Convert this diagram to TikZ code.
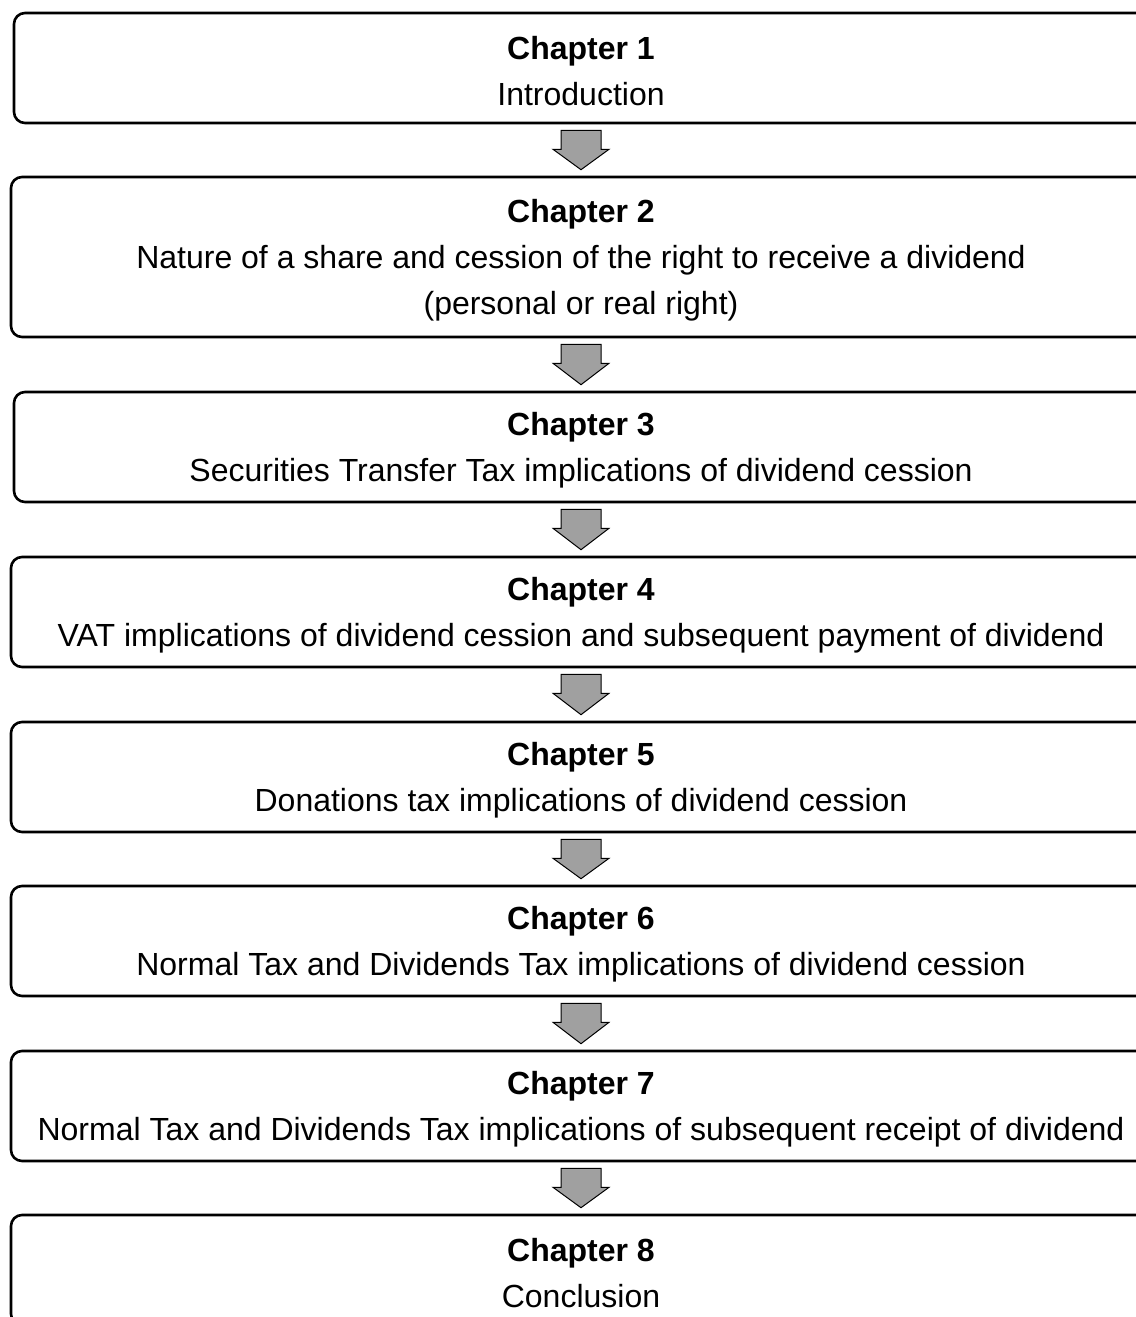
\documentclass[tikz,border=0pt]{standalone}
\usepackage{fontspec}
\setmainfont{Liberation Sans}
\usetikzlibrary{calc}
\definecolor{arrgray}{RGB}{160,160,160}
\newcommand{\chaptitle}[1]{\rule{0pt}{30pt}\textbf{Chapter #1}}
\tikzset{
  chapbox/.style={draw=black, line width=2.6pt, rounded corners=11pt, rectangle,
    align=center, inner sep=0pt, font=\fontsize{32}{46}\selectfont},
  blockarrow/.style={draw=black, line width=1pt, fill=arrgray, line join=miter}
}
\newcommand{\downblock}[2]{%
  \draw[blockarrow] ($(#1.south)+(-20,6)$) -- ++(40,0) -- ++(0,19) -- ++(8,0)
    -- ($(#2.north)+(0,-6)$) -- ($(#1.south)+(-28,25)$) -- ++(8,0) -- cycle;}
\begin{document}
\begin{tikzpicture}[x=1pt,y=-1pt]
\useasboundingbox (0,0) rectangle (1135,1317);
\node[chapbox, minimum width=1134pt, minimum height=110pt] (c1) at (581,68)
  {\chaptitle{1}\\Introduction};
\node[chapbox, minimum width=1140pt, minimum height=160pt] (c2) at (581,257)
  {\chaptitle{2}\\Nature of a share and cession of the right to receive a dividend\\(personal or real right)};
\node[chapbox, minimum width=1134pt, minimum height=110pt] (c3) at (581,447)
  {\chaptitle{3}\\Securities Transfer Tax implications of dividend cession};
\node[chapbox, minimum width=1140pt, minimum height=110pt] (c4) at (581,612)
  {\chaptitle{4}\\VAT implications of dividend cession and subsequent payment of dividend};
\node[chapbox, minimum width=1140pt, minimum height=110pt] (c5) at (581,777)
  {\chaptitle{5}\\Donations tax implications of dividend cession};
\node[chapbox, minimum width=1140pt, minimum height=110pt] (c6) at (581,941)
  {\chaptitle{6}\\Normal Tax and Dividends Tax implications of dividend cession};
\node[chapbox, minimum width=1140pt, minimum height=110pt] (c7) at (581,1106)
  {\chaptitle{7}\\Normal Tax and Dividends Tax implications of subsequent receipt of dividend};
\node[chapbox, minimum width=1140pt, minimum height=110pt] (c8) at (581,1270)
  {\chaptitle{8}\\Conclusion};
\downblock{c1}{c2}
\downblock{c2}{c3}
\downblock{c3}{c4}
\downblock{c4}{c5}
\downblock{c5}{c6}
\downblock{c6}{c7}
\downblock{c7}{c8}
\end{tikzpicture}
\end{document}
